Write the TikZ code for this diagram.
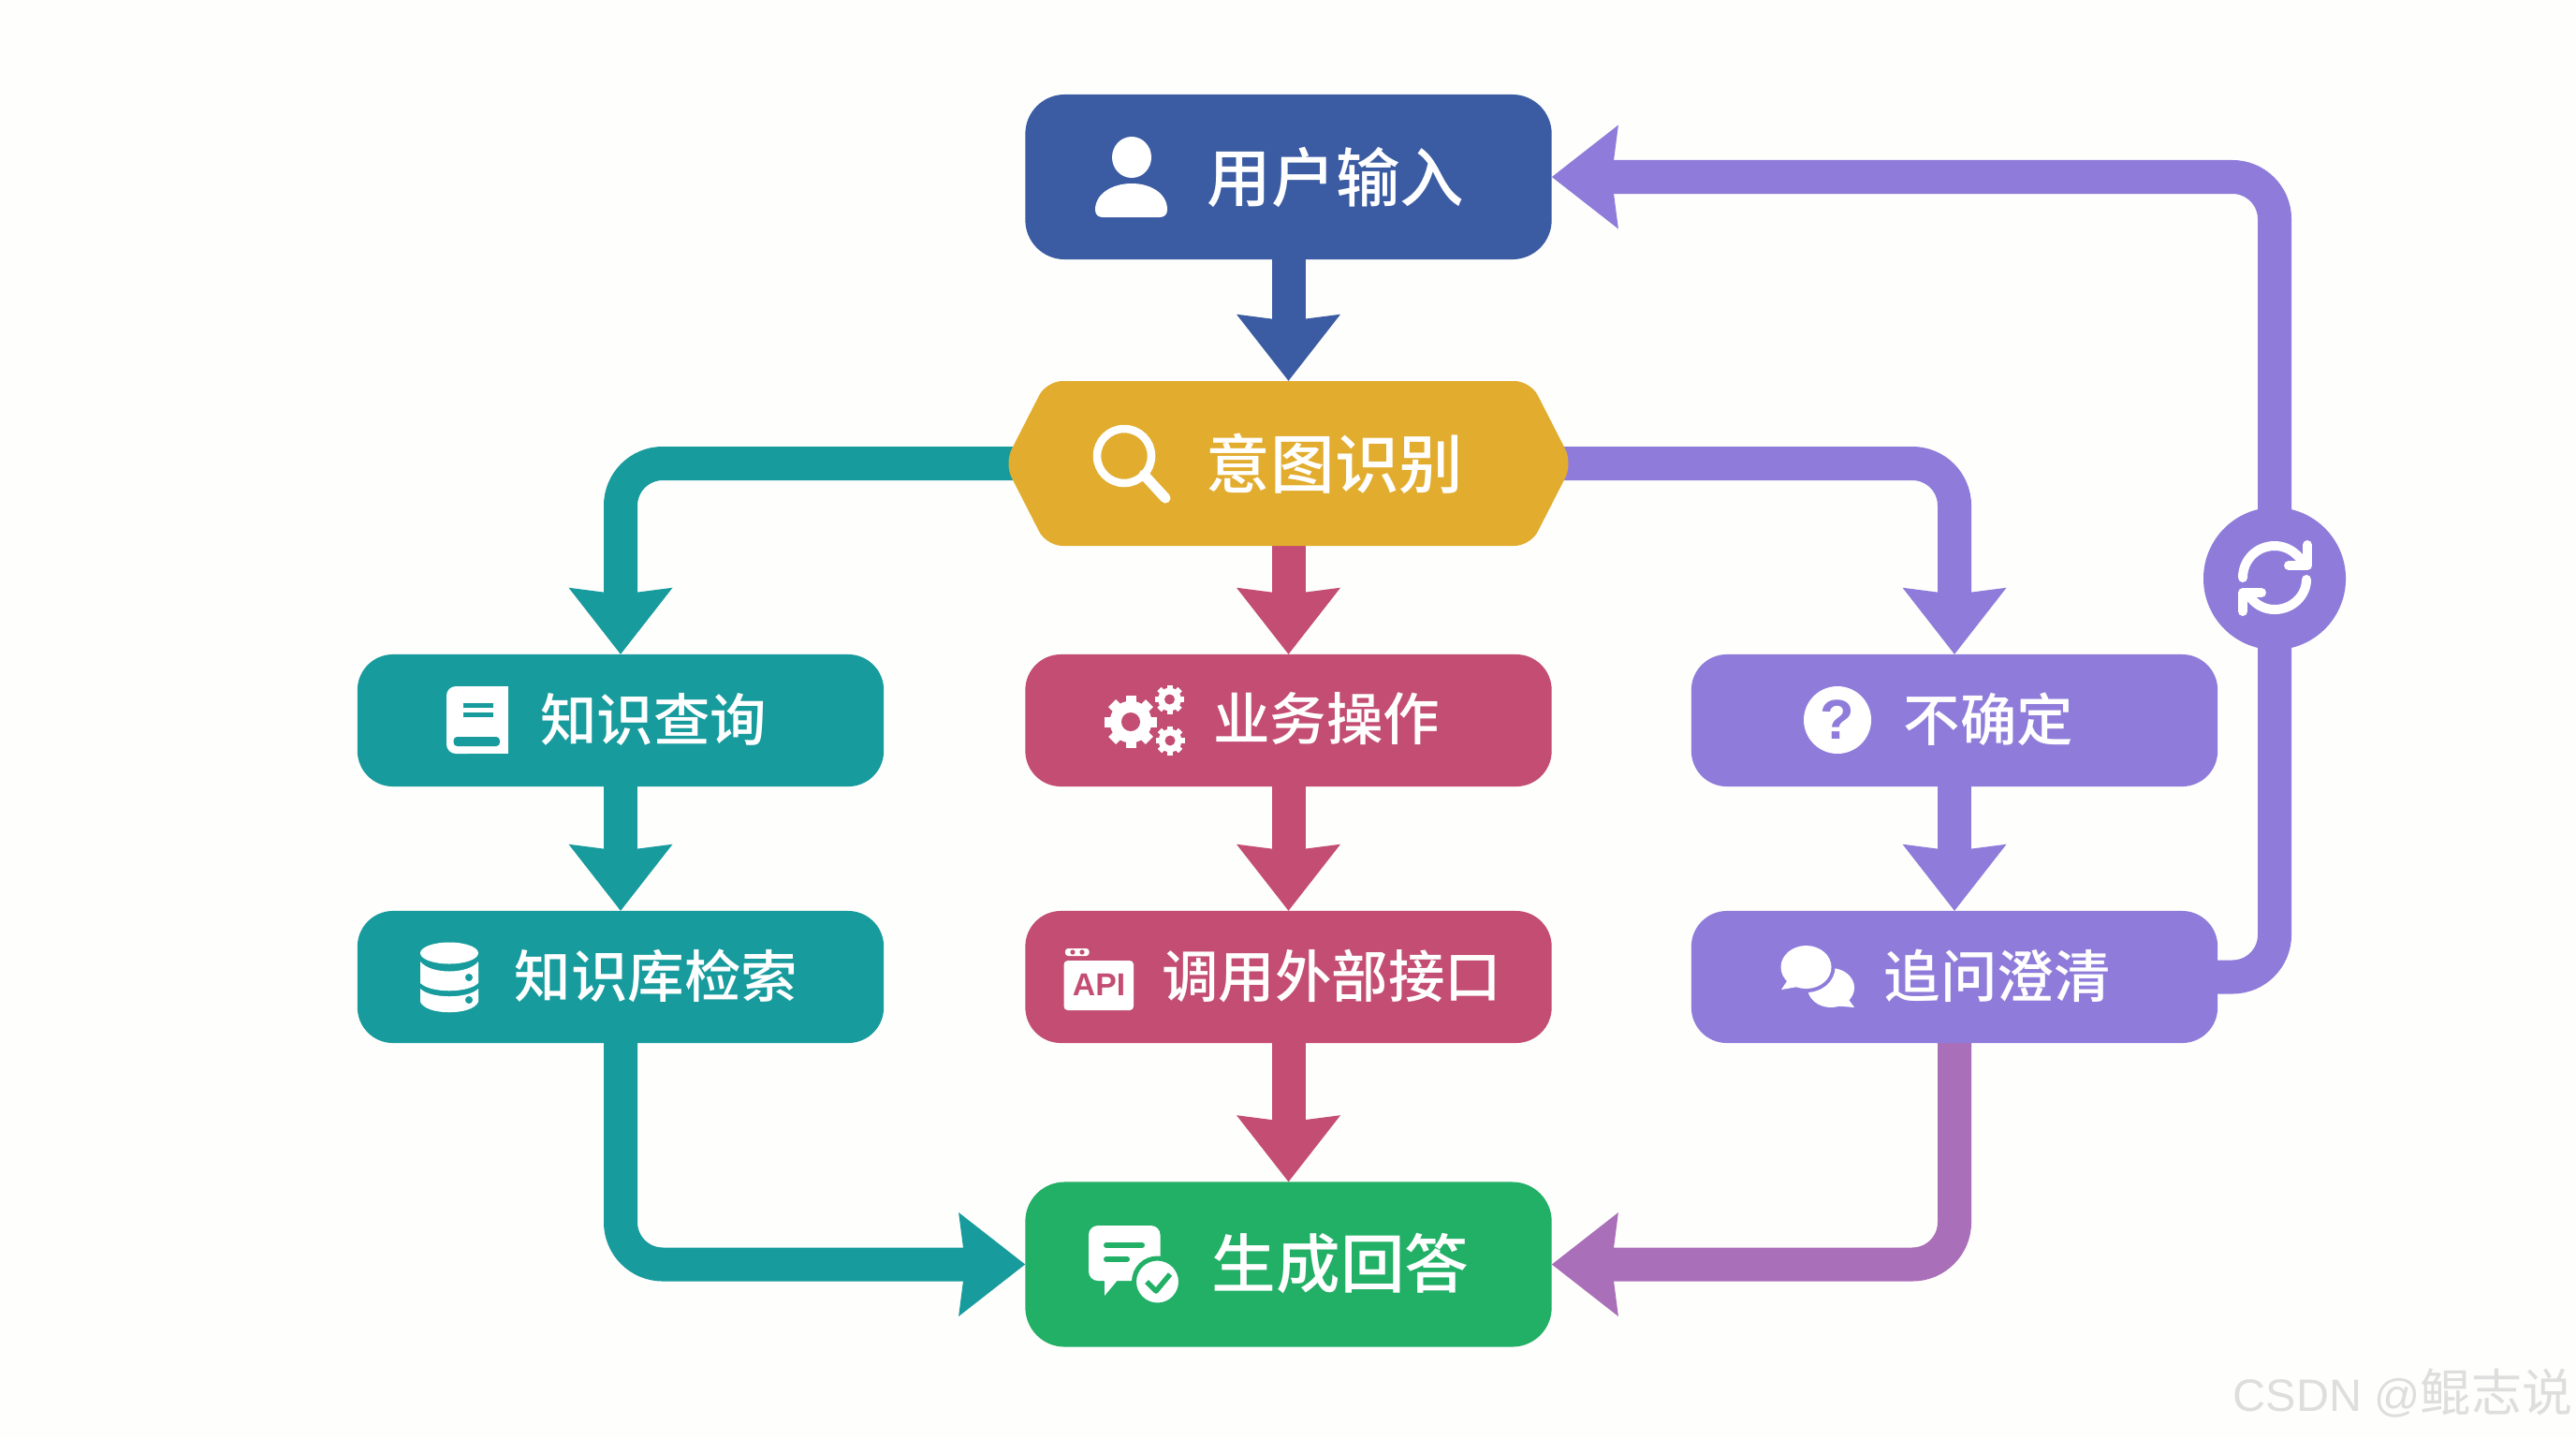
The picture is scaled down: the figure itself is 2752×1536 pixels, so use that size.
\documentclass[tikz,border=0pt]{standalone}
\usepackage{fontspec}
\setmainfont{Noto Sans CJK SC}
\newfontfamily\cjkw{Noto Sans CJK SC}
\newfontfamily\cjkm[UprightFont={* Medium}]{Noto Sans CJK SC}
\newfontfamily\arialb{Liberation Sans}
\usetikzlibrary{arrows.meta,backgrounds}
\definecolor{cblue}{HTML}{3B5CA3}
\definecolor{cgold}{HTML}{E2AC2E}
\definecolor{cteal}{HTML}{179B9D}
\definecolor{ccrim}{HTML}{C34D73}
\definecolor{cpurp}{HTML}{8F7CDA}
\definecolor{cgreen}{HTML}{22AF66}
\definecolor{cmagen}{HTML}{AA6FB9}
\definecolor{cbg}{HTML}{FEFEFC}
\definecolor{cmark}{HTML}{DEDEDE}
\tikzset{
  card/.style={rectangle,rounded corners=0.38cm,inner sep=0pt,outer sep=0pt,minimum width=5.62cm},
  tallcard/.style={card,minimum height=1.76cm,rounded corners=0.42cm},
  lowcard/.style={card,minimum height=1.41cm},
  biglabel/.style={text=white,inner sep=0pt,font=\cjkm\fontsize{19.5pt}{19.5pt}\selectfont},
  smalllabel/.style={text=white,inner sep=0pt,font=\cjkm\fontsize{17.2pt}{17.2pt}\selectfont},
  flow/.style={line width=0.36cm,rounded corners=0.45cm,-{Stealth[length=0.70cm,width=1.07cm,inset=0.06cm]}},
  trunk/.style={line width=0.36cm,rounded corners=0.45cm},
  iconline/.style={draw=white,line width=0.1cm,line cap=round,line join=round},
}
\newcommand{\gearicon}[5]{%
  \begin{scope}[shift={(#1,#2)}]
    \foreach \a in {0,45,...,315}{
      \fill[white,rotate=\a] (-#5,-#3) rectangle (#5,#3);
    }
    \fill[white] (0,0) circle[radius=0.8*#3];
    \fill[ccrim] (0,0) circle[radius=#4];
  \end{scope}}
\begin{document}
\begin{tikzpicture}[x=0.01cm,y=-0.01cm]
\useasboundingbox (0,0) rectangle (2752,1536);
\begin{pgfonlayer}{background}
  \fill[cbg] (0,0) rectangle (2752,1536);
\end{pgfonlayer}

% hexagon body
\fill[cgold,rounded corners=0.17cm] (1073,495) -- (1118,407) -- (1635,407) -- (1680,495) -- (1635,583) -- (1118,583) -- cycle;

% boxes
\node[tallcard,fill=cblue] (top) at (1376.5,189) {};
\node[rectangle,inner sep=0pt,outer sep=0pt,minimum width=5.98cm,minimum height=1.76cm] (hex) at (1376.5,495) {};
\node[lowcard,fill=cteal] (know) at (663,769.5) {};
\node[lowcard,fill=ccrim] (biz) at (1376.5,769.5) {};
\node[lowcard,fill=cpurp] (unsure) at (2088,769.5) {};
\node[lowcard,fill=cteal] (kb) at (663,1043.5) {};
\node[lowcard,fill=ccrim] (api) at (1376.5,1043.5) {};
\node[lowcard,fill=cpurp] (clar) at (2088,1043.5) {};
\node[tallcard,fill=cgreen] (gen) at (1376.5,1350.5) {};
\node[circle,fill=cpurp,inner sep=0pt,outer sep=0pt,minimum size=1.52cm] (loop) at (2430,618) {};

% connectors
\begin{pgfonlayer}{background}
  \draw[flow,cblue] (top.south) -- (hex.north);
  \draw[flow,cteal] (hex.center) -| (know.north);
  \draw[flow,ccrim] (hex.south) -- (biz.north);
  \draw[flow,cpurp] (hex.center) -| (unsure.north);
  \draw[flow,cteal] (know.south) -- (kb.north);
  \draw[flow,ccrim] (biz.south) -- (api.north);
  \draw[flow,cpurp] (unsure.south) -- (clar.north);
  \draw[flow,ccrim] (api.south) -- (gen.north);
  \draw[flow,cteal] (kb.south) |- (gen.west);
  \draw[flow,cmagen] (clar.south) |- (gen.east);
  \draw[trunk,cpurp] (clar.east) -| (loop.center);
  \draw[flow,cpurp] (loop.center) |- (top.east);
\end{pgfonlayer}

% labels
\node[biglabel] (l1) at (1427,189) {用户输入};
\node[biglabel] (l2) at (1426,495) {意图识别};
\node[smalllabel] (l3) at (698,768) {知识查询};
\node[smalllabel] (l4) at (701,1042) {知识库检索};
\node[smalllabel] (l5) at (1417,768) {业务操作};
\node[smalllabel] (l6) at (1422.5,1042) {调用外部接口};
\node[smalllabel] (l7) at (2124.5,768) {不确定};
\node[smalllabel] (l8) at (2133.5,1042) {追问澄清};
\node[biglabel] (l9) at (1432,1350) {生成回答};

% user icon
\fill[white] (1209,168) ellipse[x radius=21,y radius=22];
\fill[white] (1178,232) -- (1239,232) .. controls (1244,232) and (1247,229) .. (1247,224) .. controls (1247,207) and (1230,196) .. (1209,196) .. controls (1188,196) and (1170,207) .. (1170,224) .. controls (1170,229) and (1173,232) .. (1178,232) -- cycle;

% magnifier icon
\draw[white,line width=0.085cm] (1201,487) circle[radius=29];
\draw[white,line width=0.11cm,line cap=round] (1222,507) -- (1245,532);

% book icon
\fill[white,rounded corners=0.1cm] (477,805) -- (477,733) -- (510,733) -- (510,805) -- cycle;
\fill[white] (500,733) -- (543,733) -- (543,805) -- (500,805) -- cycle;
\fill[cteal] (495,751) rectangle (527,755.5);
\fill[cteal] (495,761) rectangle (527,765.5);
\fill[cteal,rounded corners=0.04cm] (484.5,787) rectangle (534,797);

% database icon
\fill[white] (480,1018) ellipse[x radius=31,y radius=11.5];
\fill[white] (449,1027) .. controls (460,1041) and (500,1041) .. (511,1027) -- (511,1050) .. controls (500,1061) and (460,1061) .. (449,1050) -- cycle;
\fill[white] (449,1056) .. controls (460,1067) and (500,1067) .. (511,1056) -- (511,1070) .. controls (505,1085) and (455,1085) .. (449,1070) -- cycle;
\fill[cteal] (501,1044) circle[radius=4];
\fill[cteal] (501,1068) circle[radius=4];

% gears icon
\gearicon{1208}{771}{28}{10}{5.5}
\gearicon{1249.5}{747}{15.5}{5.5}{3}
\gearicon{1250}{791}{15.5}{5.5}{3}

% API icon
\fill[white,rounded corners=0.03cm] (1138,1013) rectangle (1163.5,1021);
\fill[ccrim] (1146,1017) circle[radius=2.6];
\fill[ccrim] (1156,1017) circle[radius=2.6];
\fill[white,rounded corners=0.04cm] (1136.6,1026) rectangle (1211,1079);
\node[text=ccrim,inner sep=0pt,font=\arialb\bfseries\fontsize{9.6pt}{9.6pt}\selectfont] (apitext) at (1174,1052) {API};

% question icon
\fill[white] (1963,769) circle[radius=36];
\node[text=cpurp,inner sep=0pt,font=\arialb\bfseries\fontsize{17pt}{17pt}\selectfont] (qmark) at (1963,769) {?};

% chat icon
\fill[white] (1956,1055) ellipse[x radius=25,y radius=21];
\fill[white] (1968,1058) -- (1981,1076) -- (1958,1074) -- cycle;
\fill[cpurp] (1929.5,1033) ellipse[x radius=31,y radius=27];
\fill[white] (1929.5,1033) ellipse[x radius=27,y radius=23];
\fill[white] (1911,1045) -- (1903,1057) -- (1926,1053) -- cycle;

% answer icon
\fill[white,rounded corners=0.1cm] (1163,1309) rectangle (1239.5,1368);
\fill[white] (1180,1360) -- (1180,1384) -- (1200,1360) -- cycle;
\draw[cgreen,line width=0.06cm,line cap=round] (1182,1330) -- (1220,1330);
\draw[cgreen,line width=0.06cm,line cap=round] (1182,1345) -- (1204,1345);
\filldraw[fill=white,draw=cgreen,line width=0.05cm] (1236.5,1369) circle[radius=25];
\draw[cgreen,line width=0.055cm,line join=round] (1225,1369) -- (1235,1379) -- (1250,1361);

% loop icon
\draw[iconline] (2396,617) .. controls (2396,598) and (2411,583) .. (2430,583) .. controls (2442,583) and (2452,589) .. (2460,600);
\draw[iconline] (2465,582) -- (2465,604) -- (2445,604);
\draw[iconline] (2464,619) .. controls (2464,636) and (2449,651) .. (2430,651) .. controls (2418,651) and (2408,645) .. (2401,634);
\draw[iconline] (2396,653) -- (2396,633) -- (2416,633);

% watermark
\node[anchor=east,text=cmark,inner sep=0pt] (wm) at (2749,1488) {{\fontspec{Liberation Sans}\fontsize{13.8pt}{13.8pt}\selectfont CSDN @}{\cjkw\fontsize{15.4pt}{15.4pt}\selectfont 鲲志说}};
\end{tikzpicture}
\end{document}
